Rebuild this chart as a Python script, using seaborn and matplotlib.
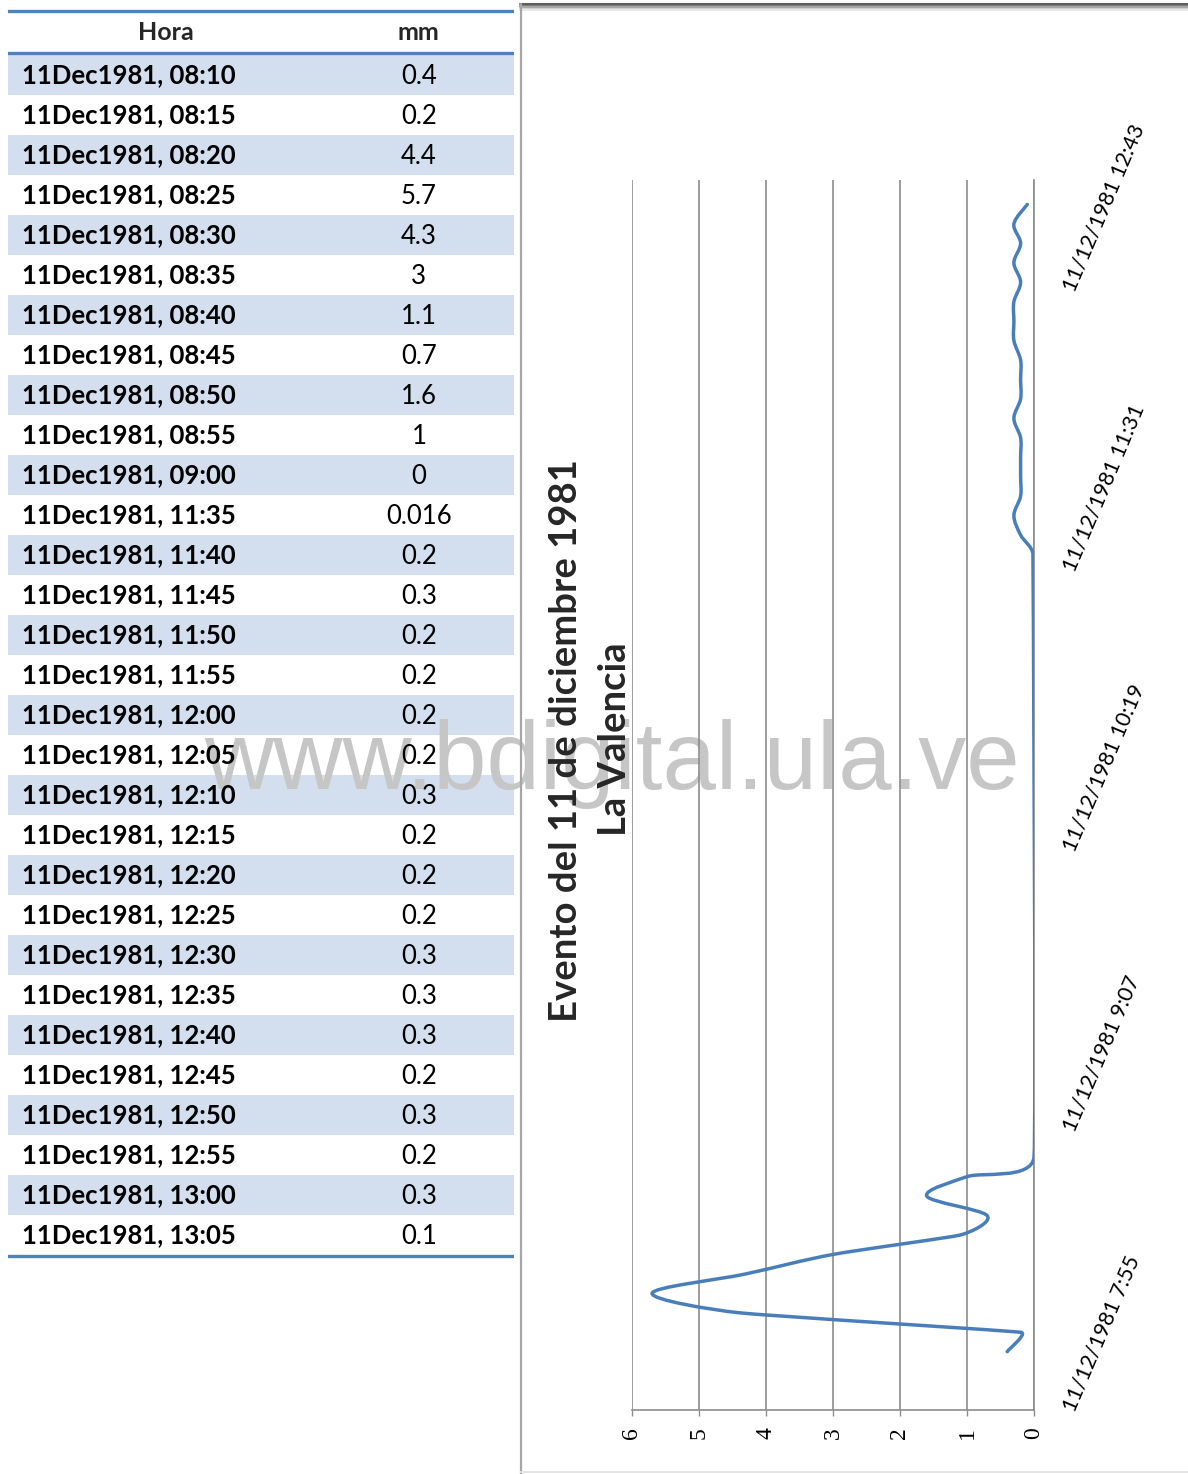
# %%
# Evento del 11 de diciembre 1981 - La Valencia
# tabla de lluvia (mm cada 5 min) + grafico girado 90 grados

import numpy as np
import matplotlib.pyplot as plt
import seaborn as sns
from matplotlib.path import Path
from matplotlib.patches import PathPatch
from matplotlib.lines import Line2D

# %%
# datos leidos de la tabla
fecha = "11Dec1981"
horas = ["08:10", "08:15", "08:20", "08:25", "08:30", "08:35", "08:40",
         "08:45", "08:50", "08:55", "09:00", "11:35", "11:40", "11:45",
         "11:50", "11:55", "12:00", "12:05", "12:10", "12:15", "12:20",
         "12:25", "12:30", "12:35", "12:40", "12:45", "12:50", "12:55",
         "13:00", "13:05"]
mm_texto = ["0.4", "0.2", "4.4", "5.7", "4.3", "3", "1.1", "0.7", "1.6",
            "1", "0", "0.016", "0.2", "0.3", "0.2", "0.2", "0.2", "0.2",
            "0.3", "0.2", "0.2", "0.2", "0.3", "0.3", "0.3", "0.2", "0.3",
            "0.2", "0.3", "0.1"]
mm = [float(s) for s in mm_texto]

# etiquetas de los ejes
ticks_hora = ["7:55", "9:07", "10:19", "11:31", "12:43"]
ticks_mm = [0, 1, 2, 3, 4, 5, 6]

titulo = "Evento del 11 de diciembre 1981"
subtitulo = "La Valencia"
marca = "www.bdigital.ula.ve"

# %%
sns.set_theme(style="white")
plt.rcParams['font.family'] = ['Lato', 'DejaVu Sans']

W, H = 1188, 1474
fig = plt.figure(figsize=(W / 100, H / 100), dpi=100)


def px_axes(l, t, r, b):
    return fig.add_axes([l / W, 1 - b / H, (r - l) / W, (b - t) / H])


def minutos(s):
    h, m = s.split(":")
    return int(h) * 60 + int(m)


azul_tabla = "#4F81BD"
relleno = "#D3DFEE"

# %%
# tabla
ax_t = px_axes(8, 9, 514, 1259)
ax_t.set_xlim(0, 1)
ax_t.set_ylim(29.6, -1.65)
ax_t.axis("off")

for i, (h, v) in enumerate(zip(horas, mm_texto)):
    if i % 2 == 0:
        ax_t.axhspan(i - 0.5, i + 0.5, color=relleno, zorder=0.5, lw=0)
    ax_t.text(0.028, i - 0.05, f"{fecha}, {h}", ha="left", va="center_baseline",
              fontsize=18.5, fontweight="bold", color="black", zorder=3)
    ax_t.text(0.812, i - 0.02, v, ha="center", va="center_baseline",
              fontsize=18.5, color="black", zorder=3)

ax_t.text(0.312, -1.1, "Hora", ha="center", va="center_baseline",
          fontsize=18, fontweight="bold", zorder=3)
ax_t.text(0.812, -1.1, "mm", ha="center", va="center_baseline",
          fontsize=18, fontweight="bold", zorder=3)

for y in [-1.6, -0.54, 29.53]:
    ax_t.axhline(y, color=azul_tabla, lw=2.4, zorder=2)

# marca de agua (entre el relleno y el texto)
ax_t.text((612 - 8) / 506, (764 - 75) / 40, marca, ha="center", va="center",
          fontsize=69, color="#C6C6C6", family="Liberation Sans",
          zorder=1, clip_on=False)

# %%
# grafico girado: valor en x (invertido), tiempo en y
t = np.array([minutos(h) for h in horas], dtype=float)
v = np.array(mm)
t0 = minutos(ticks_hora[0])
t1 = t0 + 1230 / (280 / 72)

ax = px_axes(632, 180, 1034, 1410)
ax.set_facecolor("none")
ax.set_xlim(6, 0)
ax.set_ylim(t0, t1)

# linea suavizada (Catmull-Rom a Bezier, con tangente limitada en los saltos)
sx, sy = 402 / 6, 1230 / (t1 - t0)
P = np.column_stack([v * sx, t * sy])
n = len(P)
seg = np.hypot(*np.diff(P, axis=0).T)
tang = np.zeros_like(P)
for i in range(n):
    a, b = P[max(i - 1, 0)], P[min(i + 1, n - 1)]
    d = (b - a) / 6
    lim = min(seg[j] for j in (i - 1, i) if 0 <= j < n - 1) / 3
    nd = np.hypot(*d)
    if nd > lim:
        d = d * lim / nd
    tang[i] = d
verts = [P[0]]
codes = [Path.MOVETO]
for i in range(n - 1):
    verts += [P[i] + tang[i], P[i + 1] - tang[i + 1], P[i + 1]]
    codes += [Path.CURVE4] * 3
verts = np.array(verts) / [sx, sy]
ax.add_patch(PathPatch(Path(verts, codes), fill=False, edgecolor="#4A7EBB",
                       lw=2.5, capstyle="round", zorder=3))

gris = "#8C8C8C"
ax.set_xticks(ticks_mm)
ax.set_xticklabels([str(k) for k in ticks_mm], rotation=90,
                   family="Liberation Serif", fontsize=17)
ax.set_yticks([minutos(s) for s in ticks_hora])
ax.set_yticklabels([f"11/12/1981 {s}" for s in ticks_hora], fontsize=15.5)
ax.yaxis.tick_right()
ax.tick_params(axis="x", bottom=True, direction="out", length=4.5, width=1,
               color=gris, pad=8, labelcolor="black")
ax.tick_params(axis="y", right=True, left=False, direction="out", length=6,
               width=1, color=gris, pad=19, labelcolor="black")
for lab in ax.get_yticklabels():
    lab.set_rotation(67)
    lab.set_rotation_mode("anchor")
    lab.set_ha("left")
    lab.set_va("center")

ax.grid(axis="x", color=gris, lw=1.2)
ax.grid(axis="y", visible=False)
sns.despine(ax=ax, left=True, top=True, right=False, bottom=False)
for s in ["right", "bottom"]:
    ax.spines[s].set_color(gris)
    ax.spines[s].set_linewidth(1.2)

# titulo del grafico (girado)
fig.text(566 / W, 1 - 741 / H, titulo, rotation=90, ha="center", va="center",
         fontsize=27.5, fontweight="bold")
fig.text(615 / W, 1 - 739 / H, subtitulo, rotation=90, ha="center",
         va="center", fontsize=27.5, fontweight="bold")

# marco del grafico
for k, c in enumerate(["#5A5A5A", "#7A7A7A", "#A8A8A8", "#D0D0D0", "#E8E8E8"]):
    y = 1 - (4 + k * 1.6) / H
    fig.add_artist(Line2D([520 / W, 1], [y, y], color=c, lw=1.4))
fig.add_artist(Line2D([521 / W] * 2, [0, 1 - 4 / H], color="#A6A6A6", lw=1.6))
fig.add_artist(Line2D([521 / W, 1], [1 - 1472 / H] * 2, color="#E4E4E4", lw=1.5))

fig.savefig("out.png", dpi=100)
